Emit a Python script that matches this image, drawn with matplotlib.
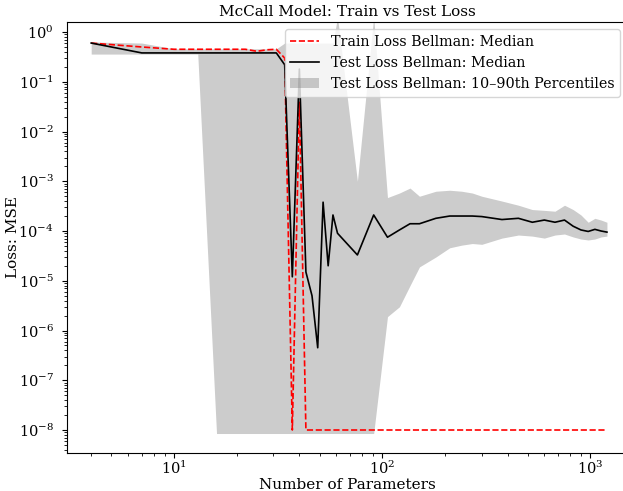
import numpy as np
import matplotlib
matplotlib.use('Agg')
import matplotlib.pyplot as plt

plt.rcParams['font.family'] = 'DejaVu Serif'
plt.rcParams['mathtext.fontset'] = 'dejavuserif'
plt.rcParams['font.size'] = 10

# number of parameters (3*width + 1)
n_params = [4, 7, 10, 13, 16, 19, 22, 25, 28, 31, 34, 37, 40, 43, 46, 49, 52, 55, 58, 61,
            76, 91, 106, 121, 136, 151, 181, 211, 241, 271, 301,
            376, 451, 526, 601, 676, 751, 826, 901, 976, 1051, 1126, 1201]

train_median = [0.6, 0.5, 0.45, 0.45, 0.45, 0.45, 0.45, 0.41, 0.44, 0.45, 0.3, 1e-8, 0.04, 1e-8,
                1e-8, 1e-8, 1e-8, 1e-8, 1e-8, 1e-8,
                1e-8, 1e-8, 1e-8, 1e-8, 1e-8, 1e-8, 1e-8, 1e-8, 1e-8, 1e-8, 1e-8,
                1e-8, 1e-8, 1e-8, 1e-8, 1e-8, 1e-8, 1e-8, 1e-8, 1e-8, 1e-8, 1e-8, 1e-8]

test_median = [0.6, 0.38, 0.38, 0.38, 0.38, 0.38, 0.38, 0.38, 0.38, 0.38, 0.22, 1.2e-5, 0.18, 1.5e-5,
               5e-6, 4.5e-7, 3.8e-4, 2e-5, 2.1e-4, 9e-5,
               3.3e-5, 2.1e-4, 7.5e-5, 1.05e-4, 1.4e-4, 1.4e-4, 1.8e-4, 2.0e-4, 2.0e-4, 2.0e-4, 1.95e-4,
               1.7e-4, 1.8e-4, 1.5e-4, 1.66e-4, 1.5e-4, 1.66e-4, 1.25e-4, 1.05e-4, 9.8e-5, 1.08e-4, 1.0e-4, 9.5e-5]

test_p10 = [0.36, 0.36, 0.36, 0.36, 8.5e-9, 8.5e-9, 8.5e-9, 8.5e-9, 8.5e-9, 8.5e-9, 8.5e-9, 8.5e-9, 8.5e-9, 8.5e-9,
            8.5e-9, 8.5e-9, 8.5e-9, 8.5e-9, 8.5e-9, 8.5e-9,
            8.5e-9, 8.5e-9, 1.9e-6, 3.0e-6, 8e-6, 1.9e-5, 3.0e-5, 4.6e-5, 5.2e-5, 5.6e-5, 5.4e-5,
            7.2e-5, 8.3e-5, 7.9e-5, 7.2e-5, 8.3e-5, 8.7e-5, 7.6e-5, 6.9e-5, 6.6e-5, 6.9e-5, 7.6e-5, 7.9e-5]

test_p90 = [0.63, 0.6, 0.46, 0.46, 0.46, 0.46, 0.46, 0.46, 0.46, 0.46, 0.6, 0.6, 0.6, 0.6,
            0.6, 0.6, 0.6, 0.6, 0.6, 2.0,
            1.0e-3, 2.0, 4.7e-4, 5.8e-4, 7.3e-4, 5.0e-4, 6.3e-4, 6.6e-4, 6.3e-4, 5.8e-4, 5.0e-4,
            4.0e-4, 3.3e-4, 2.7e-4, 2.6e-4, 2.5e-4, 3.3e-4, 2.7e-4, 2.1e-4, 1.5e-4, 1.8e-4, 1.66e-4, 1.5e-4]

fig = plt.figure(figsize=(6.23, 4.91), dpi=100)
ax = fig.add_axes([0.1075, 0.0774, 0.899, 0.8778])

ax.plot(n_params, train_median, 'r--', lw=1.2, label='Train Loss Bellman: Median')
ax.plot(n_params, test_median, 'k-', lw=1.2, label='Test Loss Bellman: Median')
ax.fill_between(n_params, test_p10, test_p90, color='gray', alpha=0.4, lw=0,
                label='Test Loss Bellman: 10\u201390th Percentiles')

ax.set_xscale('log')
ax.set_yscale('log')
ax.set_xlim(3.06, 1500)
ax.set_ylim(3.45e-9, 1.59)
ax.set_title('McCall Model: Train vs Test Loss', fontsize=11, pad=4)
ax.set_xlabel('Number of Parameters', fontsize=11, labelpad=0.5)
ax.set_ylabel('Loss: MSE', fontsize=11)
ax.yaxis.set_label_coords(-0.084, 0.5)
ax.tick_params(axis='both', which='major', labelsize=10.5)
ax.tick_params(axis='x', which='major', pad=1.5)
ax.tick_params(axis='y', which='major', pad=6)
ax.legend(loc='upper right', fontsize=10.3)

fig.savefig('out.png', dpi=100)
